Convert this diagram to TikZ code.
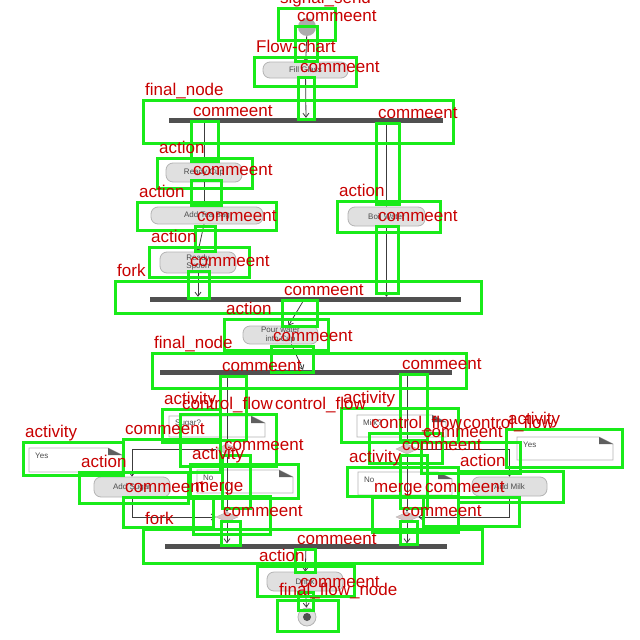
\documentclass[tikz,border=0pt]{standalone}
\usepackage{fontspec}
\setmainfont{Liberation Sans}
\usetikzlibrary{shapes.geometric,arrows.meta,positioning}

\definecolor{boxgreen}{RGB}{25,235,25}
\definecolor{labelred}{RGB}{200,0,0}
\definecolor{actfill}{RGB}{224,224,224}
\definecolor{actline}{RGB}{180,180,180}
\definecolor{bargray}{RGB}{80,80,80}
\definecolor{linegray}{RGB}{60,60,60}
\definecolor{cornergray}{RGB}{95,95,95}
\definecolor{diafill}{RGB}{215,198,198}

\begin{document}
\begin{tikzpicture}[x=1pt,y=-1pt,
  actbox/.style={draw=actline, fill=actfill, rounded corners=7pt, line width=0.8pt, font=\fontsize{8}{8.5}\selectfont, text=gray!60!black, align=center, inner sep=1pt},
  bar/.style={fill=bargray, inner sep=0pt, minimum height=5pt},
  flow/.style={draw=linegray, line width=0.8pt, -{Straight Barb[length=4pt,width=6pt]}},
  decision/.style={diamond, draw=actline, fill=diafill, inner sep=0pt, minimum width=22pt, minimum height=10pt},
  notebox/.style={draw=actline, fill=white, line width=0.8pt},
  notetext/.style={anchor=west, font=\fontsize{8}{8.5}\selectfont, text=gray!60!black, inner sep=0pt},
  annobox/.style={draw=boxgreen, line width=3pt},
  annolabel/.style={anchor=base west, text=labelred, font=\fontsize{17}{17}\selectfont, inner sep=0pt}
]
\path[use as bounding box, fill=white] (0,0) rectangle (640,640);

% Start and first action
\node[circle, fill=gray!65, minimum size=18pt, inner sep=0pt] (init) at (307,27) {};
\node[actbox, minimum width=85pt, minimum height=16pt] (fillglass) at (305.5,70) {Fill Glass};
\node[bar, minimum width=274pt] (bar1) at (306,120.5) {};

% Left branch
\node[actbox, minimum width=76pt, minimum height=19pt] (readycup) at (204,172.5) {Ready Cup};
\node[actbox, minimum width=112pt, minimum height=17pt] (addtea) at (207,215.5) {Add Tea Bag};
\node[actbox, minimum width=76pt, minimum height=21pt] (readyspoon) at (198,262.5) {Ready\\Spoon};

% Right branch
\node[actbox, minimum width=77pt, minimum height=19pt] (boilwater) at (386.5,216.5) {Boil Water};

% Join
\node[bar, minimum width=311pt] (bar2) at (305.5,299.5) {};
\node[actbox, minimum width=75pt, minimum height=18pt] (pour) at (280.5,335) {Pour water\\into Cup};
\node[bar, minimum width=292pt] (bar3) at (306,372.5) {};

% Sugar and milk
\node[decision] (decsugar) at (227,449) {};
\node[decision] (mergesugar) at (227,517) {};
\node[actbox, minimum width=76pt, minimum height=20pt] (addsugar) at (132,487) {Add Sugar};
\node[decision] (decmilk) at (407,449) {};
\node[decision] (mergemilk) at (407,517) {};
\node[actbox, minimum width=75pt, minimum height=19pt] (addmilk) at (509.5,486.5) {Add Milk};

% Notes
\foreach \xa/\ya/\xb/\yb/\txt in {169/416/265/437/Sugar?, 29/448/122/472/Yes, 197/470/293/493/No,
    357/415/446/437/Milk?, 517/437/613/460/Yes, 358/472/452/495/No}{
  \draw[notebox] (\xa,\ya) -- ({\xb-14},\ya) -- (\xb,{\ya+7}) -- (\xb,\yb) -- (\xa,\yb) -- cycle;
  \fill[cornergray] ({\xb-14},\ya) -- ({\xb-14},{\ya+7}) -- (\xb,{\ya+7}) -- cycle;
  \node[notetext] (note\xa) at ({\xa+6},{\ya+8}) {\txt};
}

% End
\node[bar, minimum width=282pt] (bar4) at (306,546) {};
\node[actbox, minimum width=76pt, minimum height=19pt] (drink) at (305,581.5) {Drink};
\node[circle, draw=actline, fill=gray!25, line width=0.8pt, minimum size=18pt, inner sep=0pt] (final) at (307,617) {};
\node[circle, fill=bargray, minimum size=8pt, inner sep=0pt] (finaldot) at (final) {};

% Flows
\draw[flow] (init) -- (fillglass);
\draw[flow] (fillglass) -- (bar1);
\draw[flow] (bar1.south -| readycup) -- (readycup);
\draw[flow] (readycup) -- (readycup |- addtea.north);
\draw[flow] ([xshift=-3pt]addtea.south) -- (readyspoon.north);
\draw[flow] (readyspoon) -- (readyspoon |- bar2.north);
\draw[flow] (bar1.south -| boilwater) -- (boilwater);
\draw[flow] (boilwater) -- (boilwater |- bar2.north);
\draw[flow] ([xshift=-3pt]bar2.south) -- ([xshift=8pt]pour.north);
\draw[flow] ([xshift=11pt]pour.south) -- ([xshift=-3pt]bar3.north);
\draw[flow] (bar3.south -| decsugar) -- (decsugar);
\draw[flow] (decsugar) -- (mergesugar);
\draw[flow] (decsugar.west) -| (addsugar.north);
\draw[flow] (addsugar.south) |- (mergesugar.west);
\draw[flow] (mergesugar) -- (mergesugar |- bar4.north);
\draw[flow] (bar3.south -| decmilk) -- (decmilk);
\draw[flow] (decmilk) -- (mergemilk);
\draw[flow] (decmilk.east) -| (addmilk.north);
\draw[flow] (addmilk.south) |- (mergemilk.east);
\draw[flow] (mergemilk) -- (mergemilk |- bar4.north);
\draw[flow] (bar4) -- (drink);
\draw[flow] (drink) -- (final);

% Detection boxes
\foreach \xa/\ya/\xb/\yb/\txt in {
    278/8/335/40/signal\_send, 295/26/317/61/commeent, 254/57/356/86/Flow-chart,
    298/77/314/119/commeent, 143/100/453/143/final\_node, 191/121/218/161/commeent,
    376/123/399/204/commeent, 157/158/252/188/action, 191/180/221/205/commeent,
    137/202/276/230/action, 337/201/440/232/action, 195/226/215/251/commeent,
    376/226/398/293/commeent, 149/247/249/277/action, 188/271/209/298/commeent,
    115/281/481/313/fork, 282/300/317/326/commeent, 224/319/328/350/action,
    271/346/313/372/commeent, 152/353/466/388/final\_node, 220/376/246/440/commeent,
    400/374/427/440/commeent, 162/409/220/442/activity, 180/414/276/466/control\_flow,
    23/442/123/475/activity, 123/439/220/472/commeent, 222/455/250/508/commeent,
    190/464/298/498/activity, 79/472/188/503/action, 123/497/213/527/commeent,
    193/496/270/534/merge, 221/521/240/545/commeent, 143/529/482/563/fork,
    341/408/458/442/activity, 369/433/442/463/control\_flow, 421/442/520/473/commeent,
    400/455/427/508/commeent, 506/429/622/467/activity, 347/467/458/496/activity,
    458/471/563/502/action, 372/497/458/532/merge, 423/497/519/526/commeent,
    400/521/417/544/commeent, 295/549/315/572/commeent, 257/566/354/596/action,
    298/592/313/610/commeent, 277/600/338/631/final\_flow\_node}{
  \draw[annobox] (\xa,\ya) rectangle (\xb,\yb);
  \node[annolabel] (ann\xa\ya) at ({\xa+2},{\ya-5}) {\txt};
}
\node[annolabel] (cflowleft) at (275,409) {control\_flow};
\node[annolabel] (cflowright) at (463,428) {control\_flow};
\end{tikzpicture}
\end{document}
